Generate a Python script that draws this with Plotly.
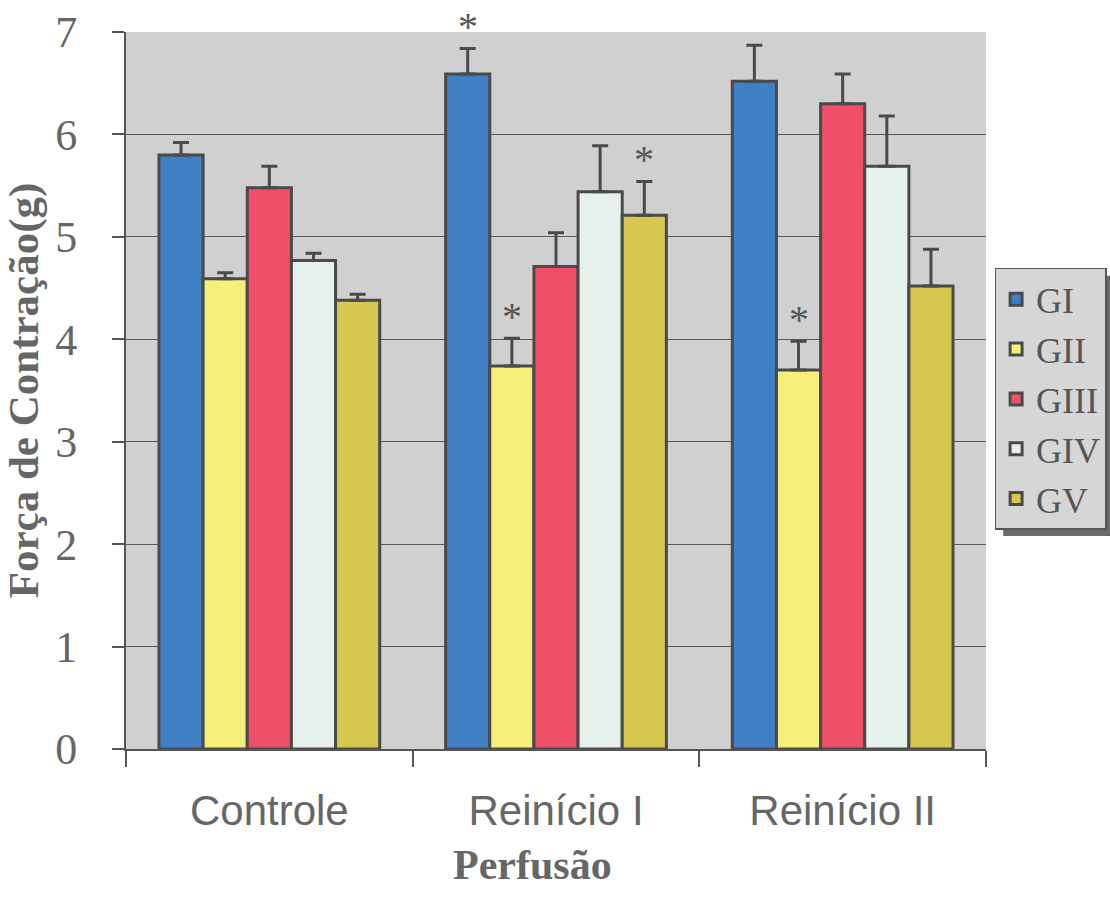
import plotly.graph_objects as go

# Contraction force by perfusion phase and group (mean + error)
categories = ["Controle", "Reinício I", "Reinício II"]
groups = ["GI", "GII", "GIII", "GIV", "GV"]

means = {
    "GI":   [5.80, 6.59, 6.52],
    "GII":  [4.59, 3.74, 3.70],
    "GIII": [5.48, 4.71, 6.30],
    "GIV":  [4.77, 5.44, 5.69],
    "GV":   [4.38, 5.21, 4.52],
}
errors = {
    "GI":   [0.12, 0.25, 0.35],
    "GII":  [0.06, 0.27, 0.28],
    "GIII": [0.21, 0.33, 0.29],
    "GIV":  [0.07, 0.45, 0.49],
    "GV":   [0.06, 0.33, 0.36],
}
# significance marks: (group, category index)
significant = [("GI", 1), ("GII", 1), ("GV", 1), ("GII", 2)]

colors = {
    "GI": "#3f7fc4",
    "GII": "#f7ef7c",
    "GIII": "#ef4f68",
    "GIV": "#e6f1ec",
    "GV": "#d6c84e",
}

edge = "#4a4a4a"
bargap = 0.23

fig = go.Figure()
for g in groups:
    fig.add_trace(go.Bar(
        name=g,
        x=categories,
        y=means[g],
        marker=dict(color=colors[g], line=dict(color=edge, width=3)),
        error_y=dict(type="data", array=errors[g],
                     arrayminus=[0] * len(errors[g]), symmetric=False,
                     visible=True, color=edge, thickness=3, width=8),
        legendgroup=g,
    ))

# asterisks over the error bars of significant groups
bar_w = (1 - bargap) / len(groups)
for g, ci in significant:
    gi = groups.index(g)
    xpos = ci + (gi - (len(groups) - 1) / 2) * bar_w
    fig.add_annotation(
        x=xpos, y=means[g][ci] + errors[g][ci], xref="x", yref="y",
        text="*", showarrow=False, yshift=22,
        font=dict(family="Liberation Serif", size=40, color="#555555"),
    )

# legend shadow
fig.add_shape(type="rect", xref="paper", yref="paper",
              x0=1.02, x1=1.16, y0=0.297, y1=0.66,
              fillcolor="#6a6a6a", line=dict(width=0), layer="below")

# x axis title
fig.add_annotation(
    x=(532 - 126) / 860, y=(749 - 865) / 717, xref="paper", yref="paper",
    xanchor="center", yanchor="middle",
    text="<b>Perfusão</b>", showarrow=False,
    font=dict(family="Liberation Serif", size=42, color="#666666"),
)

fig.update_layout(
    width=1110, height=901,
    margin=dict(l=126, r=124, t=32, b=152, autoexpand=False),
    paper_bgcolor="white",
    plot_bgcolor="#d0d0d0",
    barmode="group",
    bargap=bargap,
    bargroupgap=0,
    showlegend=True,
    legend=dict(
        x=1.01, y=0.671, xanchor="left", yanchor="top",
        bgcolor="#d6d6d6", bordercolor="#555555", borderwidth=1.5,
        font=dict(family="Liberation Serif", size=36, color="#555555"),
        tracegroupgap=0,
        itemwidth=30,
    ),
    xaxis=dict(
        automargin=False,
        showline=True, linecolor="#555555", linewidth=2,
        ticks="outside", tickson="boundaries", ticklen=16,
        tickcolor="#555555", tickwidth=1.5,
        ticklabelstandoff=24,
        tickfont=dict(family="Liberation Sans", size=42, color="#666666"),
        showgrid=False,
    ),
    yaxis=dict(
        automargin=False,
        range=[0, 7], dtick=1,
        showline=True, linecolor="#555555", linewidth=2,
        ticks="outside", ticklen=12, tickcolor="#555555", tickwidth=1.5,
        ticklabelstandoff=26,
        tickfont=dict(family="Liberation Serif", size=44, color="#666666"),
        showgrid=True, gridcolor="#5a5a5a", gridwidth=1.2,
        zeroline=False,
        title=dict(text="<b>Força de Contração(g)</b>", standoff=14,
                   font=dict(family="Liberation Serif", size=43, color="#666666")),
    ),
)

fig.write_html("out.html")
